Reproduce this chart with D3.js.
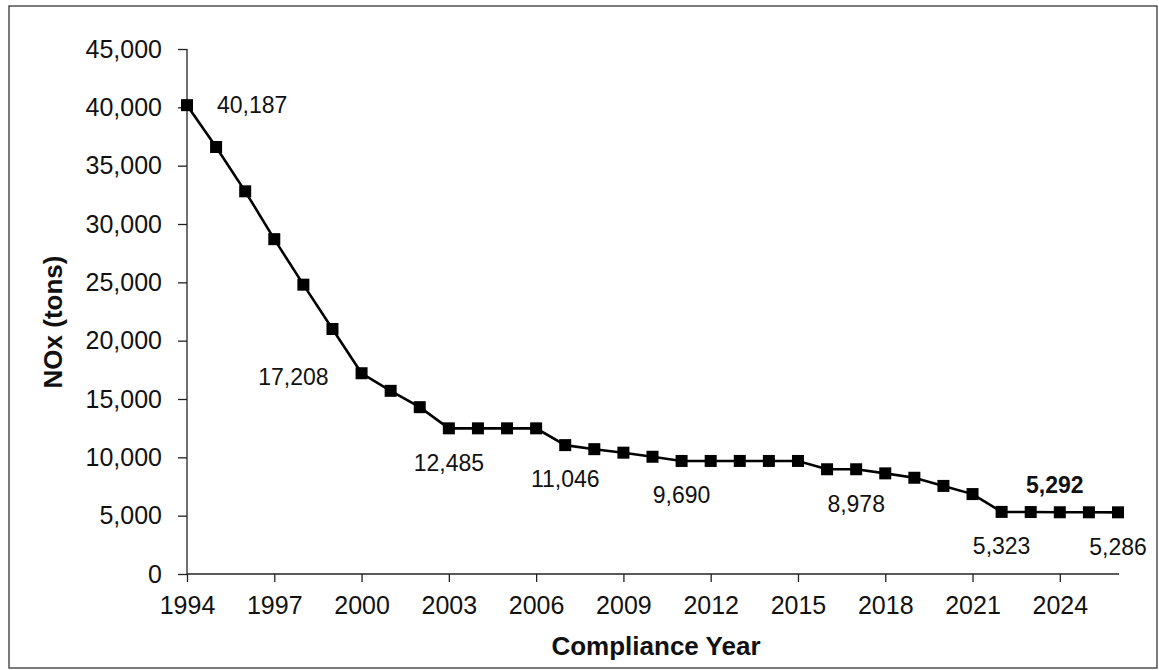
<!DOCTYPE html>
<html>
<head>
<meta charset="utf-8">
<script src="https://cdn.jsdelivr.net/npm/d3@7/dist/d3.min.js"></script>
<style>
  html, body { margin: 0; padding: 0; background: #fff; }
  svg { display: block; font-family: "Liberation Sans", Arial, sans-serif; }
</style>
</head>
<body>
<svg id="chart" width="1159" height="670"></svg>
<script>
// ---- data ----
const years = [1994,1995,1996,1997,1998,1999,2000,2001,2002,2003,2004,2005,2006,2007,2008,2009,2010,
               2011,2012,2013,2014,2015,2016,2017,2018,2019,2020,2021,2022,2023,2024,2025,2026];
const nox = [40187,36600,32800,28700,24800,21000,17208,15700,14300,12485,12485,12485,12485,11046,10700,10400,10050,
             9690,9690,9690,9690,9690,8978,8978,8625,8250,7550,6850,5323,5310,5292,5290,5286];
const labeledYears = [1994,2000,2003,2007,2011,2017,2022,2024,2026];
const xTicks = [1994,1997,2000,2003,2006,2009,2012,2015,2018,2021,2024];
const yTicks = [0,5000,10000,15000,20000,25000,30000,35000,40000,45000];
const xTitle = "Compliance Year";
const yTitle = "NOx (tons)";

// ---- drawing ----
const svg = d3.select("#chart");
const fmt = d3.format(",");

svg.append("rect").attr("x",0).attr("y",0).attr("width",1159).attr("height",670).attr("fill","#fff");
// outer frame
svg.append("rect").attr("x",9).attr("y",6).attr("width",1148).attr("height",662)
  .attr("fill","none").attr("stroke","#444").attr("stroke-width",1.4);

const x = d3.scaleLinear().domain([1994,2026]).range([187,1118]);
const y = d3.scaleLinear().domain([0,45000]).range([574,49]);

// axes
const yAxis = d3.axisLeft(y).tickValues(yTicks).tickFormat(d => fmt(d)).tickSizeOuter(0).tickSize(9).tickPadding(16);
const gy = svg.append("g").attr("transform","translate(187,0)").call(yAxis);
const xAxis = d3.axisBottom(x).tickValues(xTicks).tickFormat(d3.format("d")).tickSizeOuter(0).tickSize(8).tickPadding(14);
const gx = svg.append("g").attr("transform","translate(0,574)").call(xAxis);
// extend x-axis domain line to last point
gx.select(".domain").attr("d", `M${x(1994)},0H${x(2026)+1}`);
gy.select(".domain").attr("d", `M0,${y(45000)}V${y(0)}`);

[gx, gy].forEach(g => {
  g.select(".domain").attr("stroke","#222").attr("stroke-width",1.3);
  g.selectAll(".tick line").attr("stroke","#222").attr("stroke-width",1.3);
  g.selectAll(".tick text").attr("fill","#111").attr("font-size",25).attr("font-family","'Liberation Sans', Arial, sans-serif");
});

// axis titles
svg.append("text").attr("x",656).attr("y",655).attr("text-anchor","middle")
  .attr("font-size",26).attr("font-weight","bold").attr("fill","#111").text(xTitle);
svg.append("text").attr("transform","translate(62,322) rotate(-90)").attr("text-anchor","middle")
  .attr("font-size",26).attr("font-weight","bold").attr("fill","#111").text(yTitle);

// line
const pts = years.map((yr,i) => ({yr, v: nox[i]}));
const line = d3.line().x(d => x(d.yr)).y(d => y(d.v));
svg.append("path").datum(pts).attr("d", line).attr("fill","none").attr("stroke","#000").attr("stroke-width",2.6);

// markers
const ms = 12;
svg.selectAll("rect.m").data(pts).enter().append("rect").attr("class","m")
  .attr("x", d => x(d.yr) - ms/2).attr("y", d => y(d.v) - ms/2)
  .attr("width", ms).attr("height", ms).attr("fill","#000");

// data labels
function place(yr) {
  if (yr === 1994) return {dx: 30, dy: 0, anchor: "start", bold: false};
  if (yr === 2000) return {dx: -33, dy: 3, anchor: "end", bold: false};
  if (yr === 2024) return {dx: -5, dy: -28, anchor: "middle", bold: true};
  return {dx: 0, dy: 34, anchor: "middle", bold: false};
}
labeledYears.forEach(yr => {
  const i = years.indexOf(yr);
  const p = place(yr);
  svg.append("text")
    .attr("x", x(yr) + p.dx).attr("y", y(nox[i]) + p.dy)
    .attr("dy","0.36em").attr("text-anchor", p.anchor)
    .attr("font-size", 23).attr("font-weight", p.bold ? "bold" : "normal")
    .attr("fill","#111").text(fmt(nox[i]));
});
</script>
</body>
</html>
